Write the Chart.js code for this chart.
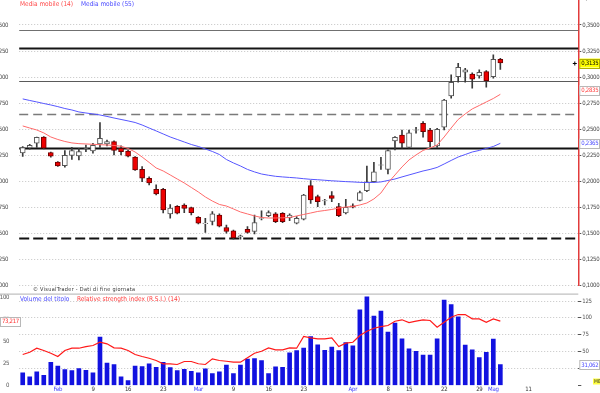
<!DOCTYPE html>
<html><head><meta charset="utf-8">
<script src="https://cdn.jsdelivr.net/npm/chart.js@4.4.1/dist/chart.umd.min.js"></script>
<style>
html,body{margin:0;padding:0;background:#fff;width:600px;height:393px;overflow:hidden;position:relative}
canvas{position:absolute;left:0}
#top{top:-21px}
#bot{top:288px}
</style></head><body>
<canvas id="bot" width="600" height="105"></canvas>
<canvas id="top" width="600" height="321"></canvas>
<script>
// ---- data ----
const dates = ['26/01','27/01','28/01','29/01','30/01',
 '02/02','03/02','04/02','05/02','06/02','09/02','10/02','11/02','12/02','13/02','16/02','17/02','18/02','19/02','20/02','23/02','24/02','25/02','26/02','27/02',
 '02/03','03/03','04/03','05/03','06/03','09/03','10/03','11/03','12/03','13/03','16/03','17/03','18/03','19/03','20/03','23/03','24/03','25/03','26/03','27/03','30/03','31/03',
 '01/04','02/04','03/04','06/04','07/04','08/04','09/04','14/04','15/04','16/04','17/04','20/04','21/04','22/04','23/04','24/04','27/04','28/04','29/04','30/04',
 '04/05','05/05'];
const open  = [0.2273,0.2321,0.2366,0.2426,0.2277,0.2186,0.2150,0.2249,0.2244,0.2318,0.2292,0.2359,0.2359,0.2381,0.2318,0.2292,0.2234,0.2116,0.2030,0.1925,0.1925,0.1688,0.1760,0.1774,0.1748,0.1656,0.1595,0.1616,0.1678,0.1558,0.1525,0.1470,0.1541,0.1520,0.1645,0.1671,0.1688,0.1694,0.1652,0.1599,0.1637,0.1959,0.1854,0.1812,0.1863,0.1758,0.1697,0.1767,0.1817,0.1911,0.1997,0.2155,0.2116,0.2388,0.2445,0.2327,0.2491,0.2558,0.2493,0.2340,0.2519,0.2819,0.3004,0.3047,0.3030,0.3011,0.3052,0.3004,0.3171];
const high  = [0.2335,0.2356,0.2426,0.2429,0.2282,0.2189,0.2295,0.2327,0.2318,0.2349,0.2366,0.2563,0.2397,0.2388,0.2340,0.2297,0.2239,0.2141,0.2045,0.1966,0.1934,0.1779,0.1769,0.1784,0.1755,0.1662,0.1647,0.1710,0.1688,0.1582,0.1534,0.1486,0.1566,0.1678,0.1719,0.1719,0.1700,0.1700,0.1688,0.1662,0.1875,0.2007,0.1870,0.1829,0.1902,0.1790,0.1829,0.1784,0.1908,0.2148,0.2184,0.2232,0.2302,0.2429,0.2493,0.2493,0.2519,0.2573,0.2510,0.2510,0.2788,0.3021,0.3133,0.3085,0.3040,0.3069,0.3062,0.3213,0.3181];
const low   = [0.2239,0.2308,0.2327,0.2311,0.2232,0.2143,0.2136,0.2212,0.2206,0.2285,0.2270,0.2325,0.2340,0.2254,0.2254,0.2234,0.2105,0.1997,0.1966,0.1870,0.1697,0.1647,0.1688,0.1700,0.1678,0.1592,0.1510,0.1582,0.1563,0.1503,0.1445,0.1445,0.1503,0.1496,0.1630,0.1662,0.1604,0.1604,0.1623,0.1592,0.1630,0.1790,0.1758,0.1774,0.1806,0.1662,0.1688,0.1745,0.1812,0.1902,0.1990,0.2116,0.2071,0.2302,0.2318,0.2318,0.2462,0.2423,0.2333,0.2327,0.2493,0.2797,0.2951,0.2951,0.2893,0.2989,0.2903,0.2989,0.3075];
const close = [0.2325,0.2345,0.2423,0.2318,0.2241,0.2148,0.2249,0.2295,0.2287,0.2320,0.2345,0.2414,0.2381,0.2297,0.2285,0.2241,0.2110,0.2030,0.1985,0.1880,0.1726,0.1745,0.1695,0.1742,0.1700,0.1599,0.1600,0.1688,0.1570,0.1520,0.1458,0.1478,0.1512,0.1606,0.1650,0.1700,0.1614,0.1614,0.1678,0.1647,0.1870,0.1822,0.1806,0.1816,0.1838,0.1671,0.1752,0.1752,0.1894,0.1997,0.2093,0.2160,0.2295,0.2423,0.2366,0.2467,0.2495,0.2477,0.2381,0.2500,0.2781,0.2951,0.3095,0.3069,0.2980,0.3047,0.2966,0.3171,0.3135];
const ma14  = [0.2532,0.2512,0.2493,0.2465,0.2426,0.2402,0.2383,0.2369,0.2362,0.2359,0.2356,0.2352,0.2349,0.2345,0.2337,0.2316,0.2282,0.2234,0.2182,0.2129,0.2100,0.2062,0.2023,0.1985,0.1942,0.1899,0.1851,0.1812,0.1779,0.1764,0.1736,0.1707,0.1688,0.1669,0.1654,0.1649,0.1649,0.1651,0.1654,0.1669,0.1683,0.1697,0.1712,0.1721,0.1731,0.1745,0.1755,0.1760,0.1774,0.1793,0.1832,0.1889,0.1985,0.2062,0.2139,0.2206,0.2254,0.2297,0.2321,0.2349,0.2426,0.2512,0.2594,0.2647,0.2695,0.2728,0.2762,0.2795,0.2835];
const ma55  = [0.2791,0.2776,0.2762,0.2747,0.2733,0.2717,0.2699,0.2685,0.2666,0.2656,0.2647,0.2637,0.2623,0.2608,0.2594,0.2580,0.2565,0.2541,0.2512,0.2484,0.2455,0.2426,0.2402,0.2378,0.2354,0.2335,0.2311,0.2287,0.2258,0.2210,0.2177,0.2148,0.2115,0.2091,0.2071,0.2059,0.2049,0.2043,0.2038,0.2033,0.2026,0.2020,0.2016,0.2011,0.2006,0.2002,0.1998,0.1995,0.1991,0.1989,0.1990,0.1995,0.2009,0.2023,0.2043,0.2062,0.2081,0.2100,0.2115,0.2134,0.2167,0.2201,0.2234,0.2258,0.2282,0.2297,0.2316,0.2335,0.2365];
const volume = [18.6,12.7,20.1,15.2,34.3,28.9,23.5,22.1,25.0,22.5,18.6,71.6,33.3,30.9,12.7,7.4,28.9,27.9,31.9,27.0,34.3,26.5,22.1,24.0,21.1,18.6,24.5,17.6,20.1,30.4,17.6,30.4,39.2,39.7,36.8,17.6,27.5,27.0,48.5,51.5,55.4,72.5,60.3,52.0,56.9,51.5,63.7,58.8,111.8,131.4,102.9,110.3,78.9,92.2,69.1,54.4,50.5,45.1,45.1,69.1,126.5,119.6,101.5,59.8,52.9,41.2,49.0,68.6,31.062];
const rsi = [35.2,37.8,42.4,39.8,36.7,33.0,39.8,42.4,42.4,44.3,45.5,49.2,47.4,42.8,42.4,39.8,35.2,33.0,31.0,28.4,24.7,24.7,23.9,27.3,27.3,24.7,23.9,30.3,28.4,27.6,26.5,26.5,31.5,36.7,39.0,42.8,40.6,40.6,42.8,42.4,55.7,54.2,53.1,53.1,54.2,44.3,48.1,49.2,56.8,61.7,65.1,67.0,68.2,73.1,74.7,71.6,73.1,74.7,73.9,66.3,71.9,77.6,80.7,80.7,75.8,75.8,71.9,75.8,73.217];
const levels = [0.3452,0.3275,0.2963,0.2647,0.2321,0.1457];
const tickIdx  = [5,10,15,20,25,30,35,40,47,52,55,60,65,67,72];
const tickText = ['Feb','9','16','23','Mar','9','16','23','Apr','8','15','22','29','Mag','11'];
const tickIsMonth = [true,false,false,false,true,false,false,false,true,false,false,false,false,true,false];

// ---- styling ----
const FONT = '"Liberation Sans Narrow","DejaVu Sans Condensed","Liberation Sans",sans-serif';
const FS = 6;
const SPACING = '-0.3px';
Chart.defaults.font.family = FONT;
Chart.defaults.font.size = FS;
const levelStyle = [
  {c:'#707070', w:1.2, d:[]}, {c:'#151515', w:1.8, d:[]}, {c:'#5a5a5a', w:1.2, d:[]},
  {c:'#7a7a7a', w:1.5, d:[9,5]}, {c:'#111111', w:1.8, d:[]}, {c:'#111111', w:2, d:[10,4]}
];
const X_MIN = -0.5, X_MAX = 79.1;
const fmt = (v, d) => v.toFixed(d).replace('.', ',');
const idx = open.map((_, i) => i);
const up = idx.map(i => close[i] >= open[i]);

const tightText = { id: 'tightText', beforeDraw(chart) { chart.ctx.letterSpacing = SPACING; } };

function label(ctx, text, x, y, color, size, spacing) {
  ctx.save();
  ctx.letterSpacing = spacing;
  ctx.font = size + 'px ' + FONT; ctx.textBaseline = 'middle'; ctx.textAlign = 'left';
  ctx.fillStyle = color; ctx.fillText(text, x, y);
  ctx.restore();
}
function box(ctx, x, y, w, text, fill, stroke, color, align) {
  ctx.save();
  ctx.fillStyle = fill; ctx.strokeStyle = stroke; ctx.lineWidth = 1;
  ctx.fillRect(x, y - 4.5, w, 9);
  ctx.strokeRect(x + 0.5, Math.round(y - 4.5) + 0.5, w - 1, 9);
  ctx.fillStyle = color; ctx.font = FS + 'px ' + FONT; ctx.textBaseline = 'middle';
  ctx.textAlign = align || 'left';
  ctx.fillText(text, align === 'right' ? x + w - 2 : x + 2, y + 0.5);
  ctx.restore();
}
function nudge(y, ticksPx) {
  let above = -1e9, below = 1e9;
  ticksPx.forEach(t => { if (t <= y && t > above) above = t; if (t > y && t < below) below = t; });
  if (Math.min(y - above, below - y) < 10 && above > -1e8 && below < 1e8) return (above + below) / 2;
  return y;
}

const topPlugin = {
  id: 'topDecor',
  beforeDatasetsDraw(chart) {
    const {ctx, chartArea: a} = chart; const ys = chart.scales.y;
    levels.forEach((v, k) => {
      const s = levelStyle[k]; const y = Math.round(ys.getPixelForValue(v)) + 0.5;
      ctx.save(); ctx.strokeStyle = s.c; ctx.lineWidth = s.w; ctx.setLineDash(s.d);
      ctx.beginPath(); ctx.moveTo(a.left, y); ctx.lineTo(a.right, y); ctx.stroke(); ctx.restore();
    });
  },
  afterDraw(chart) {
    const {ctx, chartArea: a} = chart; const ys = chart.scales.y;
    label(ctx, 'Media mobile (14)', 20, a.top + 5.5, '#ff4a4a', 6.5, '0px');
    label(ctx, 'Media mobile (55)', 81, a.top + 5.5, '#4a4aff', 6.5, '0px');
    label(ctx, '\u00a9 VisualTrader - Dati di fine giornata', 33, a.bottom + 3.5, '#333', 5.5, '0.3px');
    const tp = ys.ticks.map(t => ys.getPixelForValue(t.value));
    const n = close.length - 1;
    const yc = ys.getPixelForValue(close[n]);
    box(ctx, a.right + 1, nudge(yc, tp), 600 - a.right - 1, fmt(close[n], 4), '#ffff00', '#b0b000', '#000');
    box(ctx, a.right + 1, nudge(ys.getPixelForValue(ma14[n]), tp), 600 - a.right - 1, fmt(ma14[n], 4), '#ffffff', '#b8b8b8', '#ff4040');
    box(ctx, a.right + 1, nudge(ys.getPixelForValue(ma55[n]), tp), 600 - a.right - 1, fmt(ma55[n], 4), '#ffffff', '#b8b8b8', '#4a4aff');
    ctx.save(); ctx.strokeStyle = '#000'; ctx.lineWidth = 1;
    const cx = a.right - 3.5, cy = Math.round(yc) + 0.5;
    ctx.beginPath(); ctx.moveTo(cx - 2, cy); ctx.lineTo(cx + 2, cy); ctx.moveTo(cx, cy - 2); ctx.lineTo(cx, cy + 2); ctx.stroke();
    ctx.restore();
  }
};

new Chart(document.getElementById('top'), {
  type: 'bar',
  data: { datasets: [
    { type: 'line', label: 'Media mobile (14)', data: ma14.map((v, i) => ({x: i, y: v})), borderColor: '#ff6a6a', borderWidth: 1, pointRadius: 0, order: 0 },
    { type: 'line', label: 'Media mobile (55)', data: ma55.map((v, i) => ({x: i, y: v})), borderColor: '#5656ff', borderWidth: 1, pointRadius: 0, order: 0 },
    { label: 'body', data: idx.map(i => ({x: i, y: [open[i], close[i]]})),
      backgroundColor: idx.map(i => up[i] ? '#ffffff' : '#ee0000'),
      borderColor: idx.map(i => up[i] ? '#555555' : '#700000'),
      borderWidth: 1, borderSkipped: false, barThickness: 5, grouped: false, order: 1 },
    { label: 'wick', data: idx.map(i => ({x: i, y: [low[i], high[i]]})), backgroundColor: '#3a3a3a', barThickness: 1, grouped: false, order: 2 }
  ]},
  options: {
    responsive: false, animation: false, devicePixelRatio: 1,
    layout: { padding: { top: 19.9, bottom: 14.3, left: 0, right: 0 } },
    plugins: { legend: { display: false }, tooltip: { enabled: false } },
    scales: {
      x: { type: 'linear', min: X_MIN, max: X_MAX, offset: false, display: false },
      y: { type: 'linear', position: 'right', min: 0.1, max: 0.375,
           afterFit(s) { s.width = 21.7; },
           ticks: { stepSize: 0.025, color: '#444', padding: 1, callback: v => fmt(v, 4) },
           grid: { color: '#c4c4c4', lineWidth: 1, tickLength: 3, tickColor: '#555' },
           border: { display: true, color: '#e23b3b', width: 1.5, dash: [1, 2] } },
      yl: { type: 'linear', position: 'left', min: 0.1, max: 0.375,
           afterFit(s) { s.width = 19.2; },
           ticks: { stepSize: 0.025, color: '#444', padding: 3, callback: v => fmt(v, 4) },
           grid: { display: false }, border: { display: false } }
    }
  },
  plugins: [tightText, topPlugin]
});

const botPlugin = {
  id: 'botDecor',
  afterDraw(chart) {
    const {ctx, chartArea: a} = chart;
    ctx.save();
    ctx.strokeStyle = '#b0b0b0'; ctx.lineWidth = 1;
    ctx.beginPath(); ctx.moveTo(0, a.top + 0.5); ctx.lineTo(a.right, a.top + 0.5); ctx.stroke();
    ctx.restore();
    label(ctx, 'Volume del titolo', 20, a.top + 5.5, '#4a4aff', 6.5, '0px');
    label(ctx, 'Relative strength index (R.S.I.) (14)', 77, a.top + 5.5, '#ff3a3a', 6.5, '0px');
    const n = rsi.length - 1;
    box(ctx, 0, chart.scales.yr.getPixelForValue(rsi[n]), 21, fmt(rsi[n], 3), '#ffffff', '#b8b8b8', '#ff3030', 'right');
    box(ctx, a.right + 1, chart.scales.yv.getPixelForValue(volume[n]), 600 - a.right - 1, fmt(volume[n], 3), '#ffffff', '#b8b8b8', '#4a4aff');
    ctx.save();
    ctx.fillStyle = '#ffff40'; ctx.fillRect(593, a.bottom - 7, 7, 6);
    ctx.restore();
    label(ctx, 'MB', 594, a.bottom - 4, '#333', 5, '0px');
  }
};

new Chart(document.getElementById('bot'), {
  type: 'bar',
  data: { datasets: [
    { type: 'line', label: 'Relative strength index (R.S.I.) (14)', data: rsi.map((v, i) => ({x: i, y: v})), yAxisID: 'yr', borderColor: '#ff1a1a', borderWidth: 1.2, pointRadius: 0, order: 0 },
    { label: 'Volume del titolo', data: volume.map((v, i) => ({x: i, y: v})), yAxisID: 'yv', backgroundColor: '#1212e0', barThickness: 4, grouped: false, order: 1 }
  ]},
  options: {
    responsive: false, animation: false, devicePixelRatio: 1,
    layout: { padding: { top: 5, bottom: 0, left: 0, right: 0 } },
    plugins: { legend: { display: false }, tooltip: { enabled: false } },
    scales: {
      x: { type: 'linear', position: 'bottom', min: X_MIN, max: X_MAX, offset: false,
           afterFit(s) { s.height = 7.5; },
           afterBuildTicks(s) { s.ticks = tickIdx.map(v => ({value: v})); },
           ticks: { autoSkip: false, maxRotation: 0, minRotation: 0, padding: 0.5,
                    color: c => tickIsMonth[c.index] ? '#3c3cff' : '#333',
                    callback: v => { const k = tickIdx.indexOf(v); return k < 0 ? '' : tickText[k]; } },
           grid: { display: false, drawTicks: false }, border: { display: false } },
      yv: { type: 'linear', position: 'right', min: 0, max: 136,
           afterFit(s) { s.width = 21.7; },
           ticks: { stepSize: 25, includeBounds: false, color: '#555', padding: 1, callback: v => v === 0 ? '' : String(v) },
           grid: { color: c => (c.tick && c.tick.value === 0) ? 'rgba(0,0,0,0)' : '#c4c4c4', tickLength: 3, tickColor: '#555' },
           border: { display: false, dash: [1, 2] } },
      yr: { type: 'linear', position: 'left', min: 0, max: 104.5,
           afterFit(s) { s.width = 19.2; },
           ticks: { stepSize: 25, includeBounds: false, color: '#555', padding: 2 },
           grid: { display: false }, border: { display: false } }
    }
  },
  plugins: [tightText, botPlugin]
});
</script>
</body></html>
